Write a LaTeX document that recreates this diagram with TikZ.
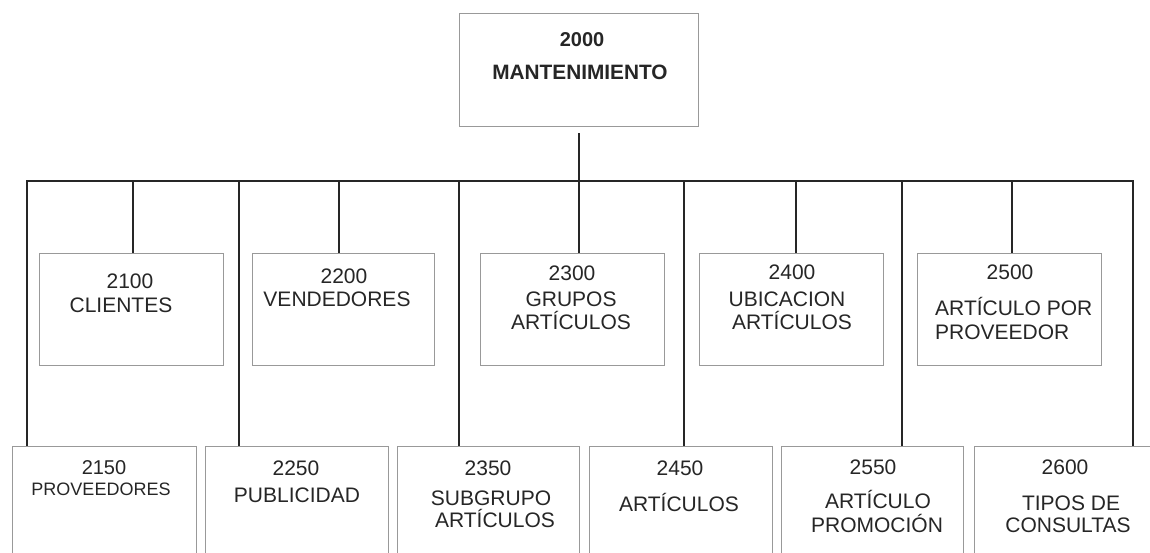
\documentclass[tikz,border=0pt]{standalone}
\usepackage{fontspec}
\setmainfont{Liberation Sans}
\begin{document}
\begin{tikzpicture}[x=1pt,y=-1pt,
  conn/.style={draw=black!85, line width=1.3pt, line join=miter},
  ubox/.style={draw=black!40, line width=0.8pt, rectangle, inner sep=0pt},
  lbl/.style={anchor=base, inner sep=0pt, font=\fontsize{21}{25}\selectfont, text=black!85},
  lblw/.style={lbl, anchor=base west},
  lbls/.style={lbl, font=\fontsize{18}{22}\selectfont},
  lblm/.style={lbl, font=\fontsize{20}{24}\selectfont},
  lblb/.style={lbl, font=\bfseries\fontsize{20}{24}\selectfont},
  lblbb/.style={lbl, font=\bfseries\fontsize{20.8}{24}\selectfont}]
\useasboundingbox (0,0) rectangle (1150,552);
\clip (0,0) rectangle (1150,552);
\fill[white] (0,0) rectangle (1150,552);

% boxes
\node[ubox, minimum width=239, minimum height=113] (top) at (578.5,69.5) {};
\node[ubox, minimum width=184, minimum height=112] (m2100) at (131,309) {};
\node[ubox, minimum width=182, minimum height=112] (m2200) at (343,309) {};
\node[ubox, minimum width=184, minimum height=112] (m2300) at (572,309) {};
\node[ubox, minimum width=184, minimum height=112] (m2400) at (791,309) {};
\node[ubox, minimum width=184, minimum height=112] (m2500) at (1009,309) {};
\node[ubox, minimum width=184, minimum height=154] (b2150) at (104,523) {};
\node[ubox, minimum width=183, minimum height=154] (b2250) at (296.5,523) {};
\node[ubox, minimum width=182, minimum height=154] (b2350) at (488,523) {};
\node[ubox, minimum width=183, minimum height=154] (b2450) at (680.5,523) {};
\node[ubox, minimum width=182, minimum height=154] (b2550) at (872,523) {};
\node[ubox, minimum width=184, minimum height=154] (b2600) at (1066,523) {};

% bus junctions
\coordinate (j1) at (27,181);
\coordinate (j2) at (133,181);
\coordinate (j3) at (239,181);
\coordinate (j4) at (339,181);
\coordinate (j5) at (459,181);
\coordinate (j6) at (579,181);
\coordinate (j7) at (684,181);
\coordinate (j8) at (796,181);
\coordinate (j9) at (902,181);
\coordinate (j10) at (1012,181);
\coordinate (j11) at (1133,181);

% connectors
\draw[conn] (top.south) ++(0.5,7) -- (j6);
\draw[conn] (j1 |- b2150.north) -- (j1) -- (j11) -- (j11 |- b2600.north);
\draw[conn] (j2) -- (j2 |- m2100.north);
\draw[conn] (j3) -- (j3 |- b2250.north);
\draw[conn] (j4) -- (j4 |- m2200.north);
\draw[conn] (j5) -- (j5 |- b2350.north);
\draw[conn] (j6) -- (j6 |- m2300.north);
\draw[conn] (j7) -- (j7 |- b2450.north);
\draw[conn] (j8) -- (j8 |- m2400.north);
\draw[conn] (j9) -- (j9 |- b2550.north);
\draw[conn] (j10) -- (j10 |- m2500.north);

% labels
\node[lblb] (t0a) at (582,46) {2000};
\node[lblbb] (t0b) at (580,79) {MANTENIMIENTO};

\node[lbl] (t1a) at (130,288) {2100};
\node[lbl] (t1b) at (121,312) {CLIENTES};

\node[lbl] (t2a) at (344,283) {2200};
\node[lbl] (t2b) at (337,306) {VENDEDORES};

\node[lbl] (t3a) at (572,280) {2300};
\node[lbl] (t3b) at (571,306) {GRUPOS};
\node[lbl] (t3c) at (571,329) {ARTÍCULOS};

\node[lbl] (t4a) at (792,279) {2400};
\node[lbl] (t4b) at (787,306) {UBICACION};
\node[lbl] (t4c) at (792,329) {ARTÍCULOS};

\node[lbl] (t5a) at (1010,279) {2500};
\node[lblw] (t5b) at (935,315) {ARTÍCULO POR};
\node[lblw] (t5c) at (935,339) {PROVEEDOR};

\node[lblm] (u1a) at (104,474) {2150};
\node[lbls] (u1b) at (101,495) {PROVEEDORES};

\node[lbl] (u2a) at (296,475) {2250};
\node[lbl] (u2b) at (297,502) {PUBLICIDAD};

\node[lbl] (u3a) at (488,475) {2350};
\node[lbl] (u3b) at (491,505) {SUBGRUPO};
\node[lbl] (u3c) at (495,527) {ARTÍCULOS};

\node[lbl] (u4a) at (680,475) {2450};
\node[lbl] (u4b) at (679,511) {ARTÍCULOS};

\node[lbl] (u5a) at (873,474) {2550};
\node[lbl] (u5b) at (878,508) {ARTÍCULO};
\node[lbl] (u5c) at (877,532) {PROMOCIÓN};

\node[lbl] (u6a) at (1065,474) {2600};
\node[lbl] (u6b) at (1071,510) {TIPOS DE};
\node[lbl] (u6c) at (1068,532) {CONSULTAS};
\end{tikzpicture}
\end{document}
